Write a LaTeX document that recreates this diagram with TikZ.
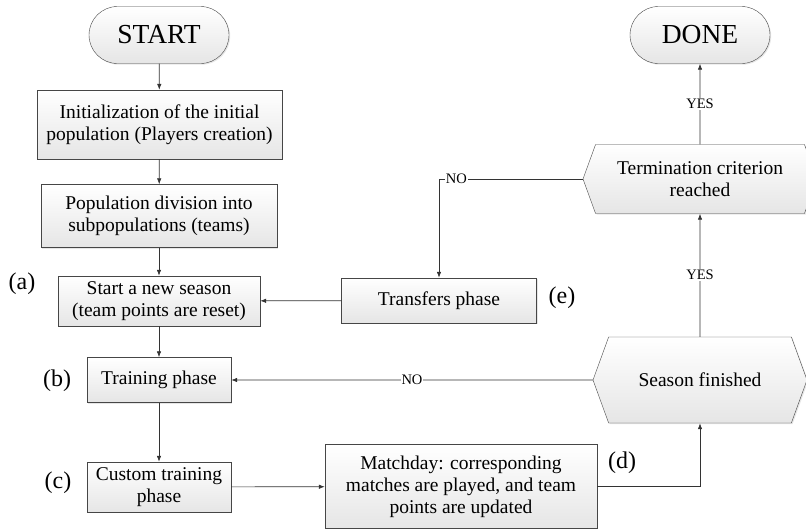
\documentclass[tikz,border=0pt]{standalone}
\usepackage{fontspec}
\setmainfont{Liberation Serif}
\usetikzlibrary{shapes.misc,shapes.symbols,shadows,arrows.meta}

\begin{document}
\begin{tikzpicture}[
    x=1pt, y=-1pt,
    every node/.style={font=\fontsize{19.5}{22}\selectfont},
    box/.style={draw=gray!55!black, top color=white, bottom color=gray!20,
        drop shadow={shadow xshift=1.2pt, shadow yshift=-1.2pt, opacity=0.2},
        align=center, inner sep=2pt},
    term/.style={box, rounded rectangle, minimum width=144pt, minimum height=57pt,
        font=\fontsize{27.5}{30}\selectfont},
    decision/.style={box, signal, signal to=west and east, signal pointer angle=140},
    arrow/.style={-{Latex[length=6pt,width=4.5pt]}, draw=gray!40!black, line width=0.7pt},
    lbl/.style={font=\fontsize{14.5}{16}\selectfont, fill=white, inner sep=1pt},
    tag/.style={font=\fontsize{24}{26}\selectfont}
]
\useasboundingbox (0,0) rectangle (806,528);

% Left column
\node[term] (start) at (159,35) {START};
\node[box, minimum width=245pt, minimum height=69pt] (init) at (159.5,124.5)
    {Initialization of the initial\\population (Players creation)};
\node[box, minimum width=236pt, minimum height=63pt] (divide) at (159,216)
    {Population division into\\subpopulations (teams)};
\node[box, minimum width=202pt, minimum height=50pt] (season) at (159,301)
    {Start a new season\\(team points are reset)};
\node[box, minimum width=144pt, minimum height=45pt] (training) at (159,380)
    {Training phase};
\node[box, minimum width=144pt, minimum height=50pt] (custom) at (159,487)
    {Custom training\\phase};

% Middle
\node[box, minimum width=195pt, minimum height=45pt] (transfers) at (439,300.5)
    {Transfers phase};
\node[box, minimum width=272pt, minimum height=84pt] (matchday) at (461,486.5)
    {Matchday: corresponding\\matches are played, and team\\points are updated};

% Right column
\node[term] (done) at (700,35) {DONE};
\node[decision, minimum width=234pt, minimum height=69pt] (termination) at (700,179)
    {Termination criterion\\reached};
\node[decision, minimum width=214pt, minimum height=86pt] (finished) at (700,380)
    {Season finished};

% Tags
\node[tag] at (22,284) {(a)};
\node[tag] at (57,381) {(b)};
\node[tag] at (58,483) {(c)};
\node[tag] at (622,463) {(d)};
\node[tag] at (562,298) {(e)};

% Arrows
\draw[arrow] (start) -- (init);
\draw[arrow] (init) -- (divide);
\draw[arrow] (divide) -- (season);
\draw[arrow] (season) -- (training);
\draw[arrow] (training) -- (custom);
\draw[arrow] (custom) -- (matchday);
\draw[arrow] (matchday.east) -| (finished.south);
\draw[arrow] (finished) -- node[lbl, pos=0.5]{NO} (training);
\draw[arrow] (finished) -- node[lbl]{YES} (termination);
\draw[arrow] (termination) -- node[lbl]{YES} (done);
\draw[arrow] (termination.west) -| node[lbl, pos=0.44]{NO} (transfers.north);
\draw[arrow] (transfers) -- (season);
\end{tikzpicture}
\end{document}
